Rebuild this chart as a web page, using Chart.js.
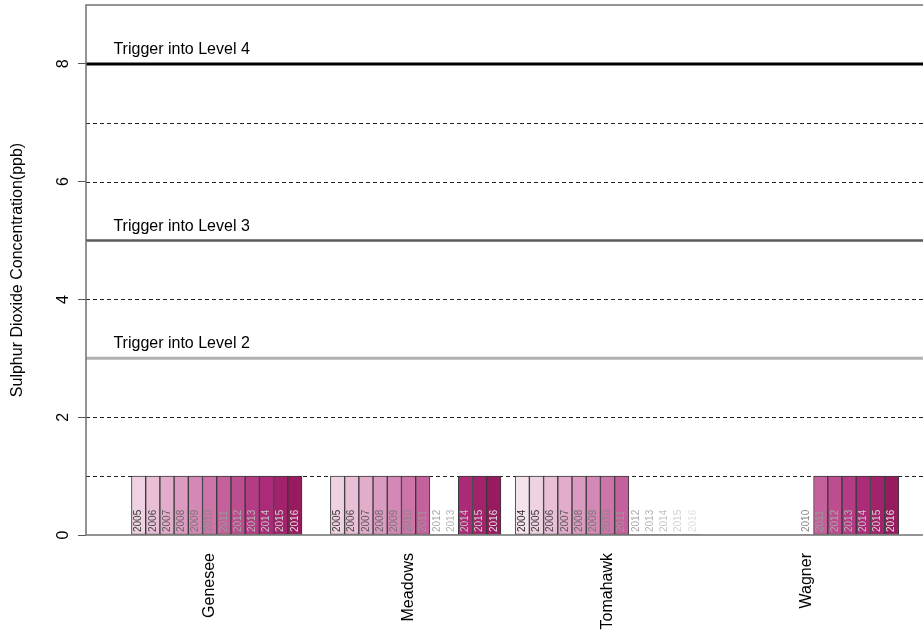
<!DOCTYPE html>
<html><head><meta charset="utf-8">
<script src="https://cdn.jsdelivr.net/npm/chart.js@4/dist/chart.umd.min.js"></script>
<style>html,body{margin:0;padding:0;background:#fff}#wrap{width:923px;height:632px}</style>
</head><body><div id="wrap"><canvas id="c" width="923" height="632"></canvas></div>
<script>
// ---- data ----
const stations = ['Genesee', 'Meadows', 'Tomahawk', 'Wagner'];
const years = [2004, 2005, 2006, 2007, 2008, 2009, 2010, 2011, 2012, 2013, 2014, 2015, 2016];
const geneseeValues  = [null, 1, 1, 1, 1, 1, 1, 1, 1, 1, 1, 1, 1];
const meadowsValues  = [null, 1, 1, 1, 1, 1, 1, 1, 0, 0, 1, 1, 1];
const tomahawkValues = [1, 1, 1, 1, 1, 1, 1, 1, 0, 0, 0, 0, 0];
const wagnerValues   = [null, null, null, null, null, null, 0, 1, 1, 1, 1, 1, 1];
const yearColors = ['#f4e2ec', '#eed2e2', '#e8bfd6', '#e2adcb', '#db9bc0', '#d488b5', '#cd74a9', '#c4609c', '#bc4e90', '#b43c84', '#ab2b78', '#a2226c', '#991b5f'];
const yearLabelColors = ['#2a2a2a', '#3a3a3a', '#484848', '#585858', '#686868', '#787878', '#888888', '#989898', '#a8a8a8', '#b4b4b4', '#c4c4c4', '#d2d2d2', '#e0e0e0'];
const triggerLevels = [3, 5, 8];
const triggerLabels = ['Trigger into Level 2', 'Trigger into Level 3', 'Trigger into Level 4'];
const triggerColors = ['#b0b0b0', '#5a5a5a', '#000000'];
const dashedLevels = [1, 2, 4, 6, 7];
const yTickValues = [0, 2, 4, 6, 8];
const yTitle = 'Sulphur Dioxide Concentration(ppb)';

const stationValues = [geneseeValues, meadowsValues, tomahawkValues, wagnerValues];
const SLOTS = years.length + 1;

const datasets = stations.map((name, g) => ({
  label: name,
  data: stationValues[g]
    .map((v, k) => v === null ? null : { x: g * SLOTS + k + 1.5, y: v, year: years[k] })
    .filter(p => p !== null),
  backgroundColor: ctx => ctx.raw ? yearColors[years.indexOf(ctx.raw.year)] : '#ccc',
  borderColor: '#3a3a3a',
  borderWidth: ctx => (ctx.raw && ctx.raw.y > 0) ? 1 : 0,
  borderSkipped: false,
  barPercentage: 1,
  categoryPercentage: 1,
  grouped: false
}));

const FONT = '"Liberation Sans", Arial, Helvetica, sans-serif';

const decor = {
  id: 'decor',
  beforeDatasetsDraw(chart) {
    const { ctx, chartArea: a, scales: { x, y } } = chart;
    ctx.save();
    ctx.strokeStyle = '#222';
    ctx.lineWidth = 1;
    ctx.setLineDash([4, 3]);
    dashedLevels.forEach(v => {
      const py = Math.round(y.getPixelForValue(v)) + 0.5;
      ctx.beginPath(); ctx.moveTo(a.left, py); ctx.lineTo(a.right, py); ctx.stroke();
    });
    ctx.setLineDash([]);
    const widths = [3, 2.5, 3];
    triggerLevels.forEach((v, i) => {
      const py = y.getPixelForValue(v);
      ctx.strokeStyle = triggerColors[i];
      ctx.lineWidth = widths[i];
      ctx.beginPath(); ctx.moveTo(a.left, py); ctx.lineTo(a.right, py); ctx.stroke();
      ctx.fillStyle = '#000';
      ctx.font = '16px ' + FONT;
      ctx.textAlign = 'left';
      ctx.textBaseline = 'alphabetic';
      ctx.fillText(triggerLabels[i], x.getPixelForValue(0.73), py - 10);
    });
    ctx.restore();
  },
  afterDatasetsDraw(chart) {
    const { ctx, chartArea: a, scales: { x, y } } = chart;
    ctx.save();
    const base = y.getPixelForValue(0);
    ctx.font = '10px ' + FONT;
    ctx.textAlign = 'left';
    ctx.textBaseline = 'middle';
    chart.data.datasets.forEach((ds, di) => {
      const meta = chart.getDatasetMeta(di);
      meta.data.forEach((el, i) => {
        const raw = ds.data[i];
        ctx.save();
        ctx.translate(el.x, base - 3);
        ctx.rotate(-Math.PI / 2);
        ctx.fillStyle = yearLabelColors[years.indexOf(raw.year)];
        ctx.fillText(String(raw.year), 0, 0);
        ctx.restore();
      });
    });
    // station labels
    ctx.font = '16px ' + FONT;
    ctx.fillStyle = '#000';
    ctx.textAlign = 'right';
    ctx.textBaseline = 'middle';
    stations.forEach((s, g) => {
      const px = x.getPixelForValue(g * SLOTS + (SLOTS - 1) / 2 + 1);
      ctx.save();
      ctx.translate(px, base + 18);
      ctx.rotate(-Math.PI / 2);
      ctx.fillText(s, 0, 0);
      ctx.restore();
    });
    // y tick labels
    ctx.textAlign = 'center';
    ctx.textBaseline = 'middle';
    yTickValues.forEach(v => {
      const py = y.getPixelForValue(v);
      ctx.save();
      ctx.translate(64, py);
      ctx.rotate(-Math.PI / 2);
      ctx.fillText(String(v), 0, 0);
      ctx.restore();
    });
    // box (left, top, bottom; right side is outside the picture)
    ctx.strokeStyle = '#707070';
    ctx.lineWidth = 1.5;
    ctx.beginPath();
    ctx.moveTo(a.right + 2, a.top);
    ctx.lineTo(a.left, a.top);
    ctx.lineTo(a.left, a.bottom);
    ctx.lineTo(a.right + 2, a.bottom);
    ctx.stroke();
    ctx.restore();
  }
};

new Chart(document.getElementById('c'), {
  type: 'bar',
  data: { datasets },
  options: {
    responsive: false,
    animation: false,
    devicePixelRatio: 1,
    layout: { padding: { top: 5, bottom: 97, left: 0, right: 0 } },
    plugins: { legend: { display: false }, tooltip: { enabled: false } },
    scales: {
      x: {
        type: 'linear',
        min: -1.2,
        max: 57.7,
        offset: false,
        display: false,
        ticks: { includeBounds: false, stepSize: 10 }
      },
      y: {
        type: 'linear',
        min: 0,
        max: 9,
        afterFit(scale) { scale.width = 86; },
        ticks: { display: false, stepSize: 2, includeBounds: false },
        grid: { drawOnChartArea: false, drawTicks: true, tickLength: 8, color: '#555', lineWidth: 1 },
        border: { display: false },
        title: { display: true, text: yTitle, color: '#000', font: { family: FONT, size: 16 }, padding: { top: 8 } }
      }
    }
  },
  plugins: [decor]
});
</script>
</body></html>
